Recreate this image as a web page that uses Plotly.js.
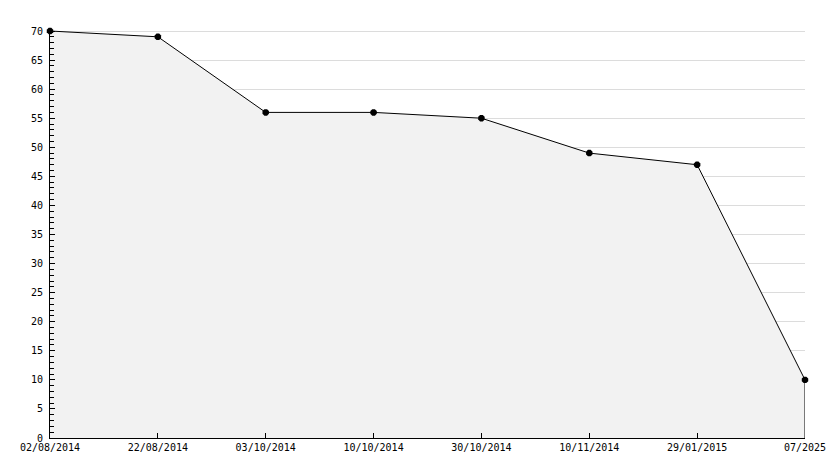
<!DOCTYPE html>
<html>
<head>
<meta charset="utf-8">
<script src="https://cdn.plot.ly/plotly-3.0.1.min.js"></script>
<style>html,body{margin:0;padding:0;background:#fff}#chart{width:834px;height:468px}</style>
</head>
<body>
<div id="chart"></div>
<script>
const categories = ["02/08/2014","22/08/2014","03/10/2014","10/10/2014","30/10/2014","10/11/2014","29/01/2015","07/2025"];
const values = [70, 69, 56, 56, 55, 49, 47, 10];
const yTickVals = [0,5,10,15,20,25,30,35,40,45,50,55,60,65,70];

const idx = categories.map((c,i)=>i);
const lastI = idx[idx.length-1];

const traces = [
  {
    x: idx, y: values, type: 'scatter', mode: 'lines+markers',
    fill: 'tozeroy', fillcolor: '#f2f2f2',
    line: {color: '#000', width: 1},
    marker: {color: '#000', size: 7, symbol: 'octagon'},
    hoverinfo: 'skip', cliponaxis: false
  },
  {
    x: [lastI, lastI], y: [values[lastI], 0], type: 'scatter', mode: 'lines',
    line: {color: '#000', width: 1}, hoverinfo: 'skip'
  }
];

const font = {family: '"DejaVu Sans Mono", monospace', size: 10, color: '#000'};

const layout = {
  width: 834, height: 468,
  margin: {l: 50, r: 29, t: 29, b: 30},
  paper_bgcolor: '#fff', plot_bgcolor: '#fff',
  showlegend: false,
  font: font,
  xaxis: {
    range: [0, lastI], tickmode: 'array', tickvals: idx, ticktext: categories,
    showgrid: false, zeroline: false, showline: true, linecolor: '#000', linewidth: 1,
    ticks: 'inside', ticklen: 5, tickcolor: '#000', tickfont: font, fixedrange: true
  },
  yaxis: {
    range: [0, 70.344], tickmode: 'array', tickvals: yTickVals,
    showgrid: true, gridcolor: '#dcdcdc', gridwidth: 1, zeroline: false,
    showline: true, linecolor: '#000', linewidth: 1,
    ticks: 'inside', ticklen: 5, tickcolor: '#000', tickfont: font,
    ticklabelstandoff: 4,
    minor: {dtick: 1, ticks: 'inside', ticklen: 4, tickcolor: '#000', showgrid: false},
    fixedrange: true
  }
};

Plotly.newPlot('chart', traces, layout, {displayModeBar: false, staticPlot: true});
</script>
</body>
</html>
